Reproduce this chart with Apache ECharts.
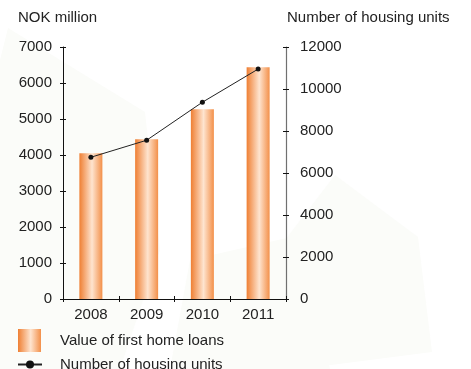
<!DOCTYPE html>
<html>
<head>
<meta charset="utf-8">
<script src="https://cdn.jsdelivr.net/npm/echarts@6/dist/echarts.min.js"></script>
<style>
  html, body { margin: 0; padding: 0; background: #ffffff; }
  #chart { width: 471px; height: 369px; }
</style>
</head>
<body>
<div id="chart"></div>
<script>
// Years on the category axis
const years = ['2008', '2009', '2010', '2011'];
// Value of first home loans, NOK million (left axis)
const loanValues = [4050, 4440, 5270, 6440];
// Number of housing units (right axis)
const housingUnits = [6750, 7560, 9370, 10950];

const FONT = '"Liberation Sans", Arial, sans-serif';
const TEXT = '#222222';

const chart = echarts.init(document.getElementById('chart'), null, { renderer: 'canvas' });

const barFill = new echarts.graphic.LinearGradient(0, 0, 1, 0, [
  { offset: 0, color: '#ef7f33' },
  { offset: 0.55, color: '#fee4cf' },
  { offset: 1, color: '#f3904a' }
]);

// faint backdrop shapes
const shade = '#fbfcf9';
const backdrop = [
  { type: 'polygon', shape: { points: [[8, 28], [145, 112], [160, 250], [120, 369], [0, 369], [0, 60]] } },
  { type: 'polygon', shape: { points: [[335, 175], [418, 237], [432, 352], [300, 369], [240, 369], [262, 270]] } },
  { type: 'polygon', shape: { points: [[190, 260], [300, 235], [330, 369], [170, 369]] } }
].map(g => Object.assign(g, { z: -10, silent: true, style: { fill: shade } }));

const plain = v => String(v);
const legendText = { fontFamily: FONT, fontSize: 15, color: TEXT, padding: [0, 0, 0, 14] };

chart.setOption({
  animation: false,
  backgroundColor: '#ffffff',
  graphic: backdrop,
  title: [
    { text: 'NOK million', left: 18, top: 10, padding: 0,
      textStyle: { fontFamily: FONT, fontSize: 15, fontWeight: 'normal', color: TEXT } },
    { text: 'Number of housing units', left: 287, top: 10, padding: 0,
      textStyle: { fontFamily: FONT, fontSize: 15, fontWeight: 'normal', color: TEXT } }
  ],
  legend: [
    {
      left: 18, top: 329, padding: 0,
      itemWidth: 23, itemHeight: 23,
      icon: 'rect',
      selectedMode: false,
      textStyle: legendText,
      data: ['Value of first home loans']
    },
    {
      left: 17, top: 357, padding: 0,
      itemWidth: 24, itemHeight: 10,
      selectedMode: false,
      textStyle: Object.assign({}, legendText, { padding: [0, 0, 0, 13] }),
      data: ['Number of housing units']
    }
  ],
  grid: { left: 63, right: 185, top: 47, bottom: 70, containLabel: false },
  xAxis: [
    {
      type: 'category',
      data: years,
      position: 'bottom',
      boundaryGap: true,
      axisLine: { show: true, lineStyle: { color: '#111', width: 1 } },
      axisTick: { show: true, inside: false, length: 3, lineStyle: { color: '#111' } },
      axisLabel: { fontFamily: FONT, fontSize: 15, color: TEXT, margin: 8 },
      splitLine: { show: false }
    },
    {
      type: 'category',
      data: years,
      position: 'bottom',
      boundaryGap: true,
      axisLine: { show: false },
      axisTick: { show: true, inside: true, length: 3, lineStyle: { color: '#111' } },
      axisLabel: { show: false },
      splitLine: { show: false }
    }
  ],
  yAxis: [
    {
      type: 'value',
      position: 'left',
      min: 0, max: 7000, interval: 1000,
      axisLine: { show: true, lineStyle: { color: '#111', width: 1 } },
      axisTick: { show: true, inside: false, length: 3, lineStyle: { color: '#111' } },
      axisLabel: { fontFamily: FONT, fontSize: 15, color: TEXT, margin: 11, formatter: plain },
      splitLine: { show: false }
    },
    {
      type: 'value',
      position: 'right',
      min: 0, max: 12000, interval: 2000,
      axisLine: { show: true, lineStyle: { color: '#707070', width: 1.2 } },
      axisTick: { show: true, inside: false, length: 3, lineStyle: { color: '#111' } },
      axisLabel: { fontFamily: FONT, fontSize: 15, color: TEXT, margin: 14, formatter: plain },
      splitLine: { show: false }
    },
    {
      type: 'value',
      position: 'left',
      min: 0, max: 7000, interval: 1000,
      axisLine: { show: false },
      axisTick: { show: true, inside: true, length: 3, lineStyle: { color: '#111' } },
      axisLabel: { show: false },
      splitLine: { show: false }
    },
    {
      type: 'value',
      position: 'right',
      min: 0, max: 12000, interval: 2000,
      axisLine: { show: false },
      axisTick: { show: true, inside: true, length: 3, lineStyle: { color: '#111' } },
      axisLabel: { show: false },
      splitLine: { show: false }
    }
  ],
  series: [
    {
      name: 'Value of first home loans',
      type: 'bar',
      xAxisIndex: 0,
      yAxisIndex: 0,
      data: loanValues,
      barWidth: 23,
      itemStyle: { color: barFill },
      z: 2
    },
    {
      name: 'Number of housing units',
      type: 'line',
      xAxisIndex: 0,
      yAxisIndex: 1,
      data: housingUnits,
      symbol: 'circle',
      symbolSize: 5,
      lineStyle: { color: '#222', width: 1 },
      itemStyle: { color: '#111' },
      z: 3
    }
  ]
});
</script>
</body>
</html>
